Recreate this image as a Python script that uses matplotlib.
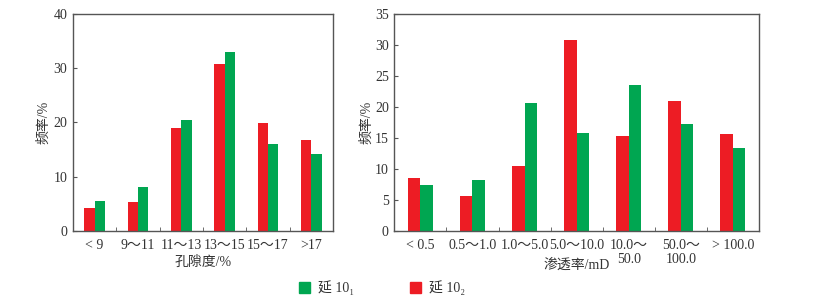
import matplotlib
matplotlib.use("Agg")
import matplotlib.pyplot as plt
import numpy as np
from matplotlib.patches import Patch

plt.rcParams['font.family'] = ['Liberation Serif', 'Noto Sans CJK SC', 'DejaVu Serif']

# Porosity chart data
por_cats = ["< 9", "9～11", "11～13", "13～15", "15～17", ">17"]
por_y101 = [5.5, 8.0, 20.4, 33.0, 16.0, 14.1]   # 延10_1 (green)
por_y102 = [4.25, 5.35, 19.0, 30.8, 19.8, 16.7]  # 延10_2 (red)

# Permeability chart data
perm_cats = ["< 0.5", "0.5～1.0", "1.0～5.0", "5.0～10.0", "10.0～\n50.0", "50.0～\n100.0", "> 100.0"]
perm_y101 = [7.4, 8.2, 20.7, 15.7, 23.6, 17.2, 13.3]
perm_y102 = [8.5, 5.6, 10.45, 30.75, 15.3, 20.95, 15.6]

legend_labels = ["延 10\u2081", "延 10\u2082"]

GREEN = "#00A651"
RED = "#ED1C24"
SPINE = "#555555"
TXT = "#333333"
FS = 10

fig = plt.figure(figsize=(8.36, 3.01), dpi=100)
ax1 = fig.add_axes([0.0873, 0.2336, 0.311, 0.72])
ax2 = fig.add_axes([0.4717, 0.2336, 0.4362, 0.72])

def draw(ax, cats, g, r, ymax, ystep, xlabel, xl_y, ylpad):
    n = len(cats)
    x = np.arange(n)
    w = 0.24
    ax.bar(x - w / 2, r, width=w, color=RED, linewidth=0)
    ax.bar(x + w / 2, g, width=w, color=GREEN, linewidth=0)
    ax.set_xlim(-0.5, n - 0.5)
    ax.set_ylim(0, ymax)
    ax.set_yticks(np.arange(0, ymax + 0.01, ystep))
    ax.set_xticks(x)
    ax.set_xticklabels(cats, fontsize=FS, color=TXT, linespacing=1.05)
    ax.set_xticks(np.arange(0.5, n - 0.5, 1.0), minor=True)
    ax.tick_params(axis='x', which='major', length=0, pad=6)
    ax.tick_params(axis='x', which='minor', direction='in', length=3, color=SPINE)
    ax.tick_params(axis='y', direction='in', length=3, color=SPINE, labelsize=FS, labelcolor=TXT, pad=4)
    for s in ax.spines.values():
        s.set_color(SPINE)
        s.set_linewidth(1.0)
    ax.set_ylabel("频率/%", fontsize=FS, color=TXT, labelpad=ylpad)
    ax.set_xlabel(xlabel, fontsize=FS, color=TXT, va='center')
    ax.xaxis.set_label_coords(0.5, xl_y)

draw(ax1, por_cats, por_y101, por_y102, 40, 10, "孔隙度/%", -0.145, 2)
draw(ax2, perm_cats, perm_y101, perm_y102, 35, 5, "渗透率/mD", -0.158, 1)

handles = [Patch(color=GREEN), Patch(color=RED)]
fig.legend(handles, legend_labels, loc='center', bbox_to_anchor=(0.457, 0.043), ncol=2,
           frameon=False, fontsize=FS, handlelength=0.8, handleheight=0.8,
           columnspacing=4.0, handletextpad=0.6, labelcolor=TXT)

fig.savefig("out.png", dpi=100)
